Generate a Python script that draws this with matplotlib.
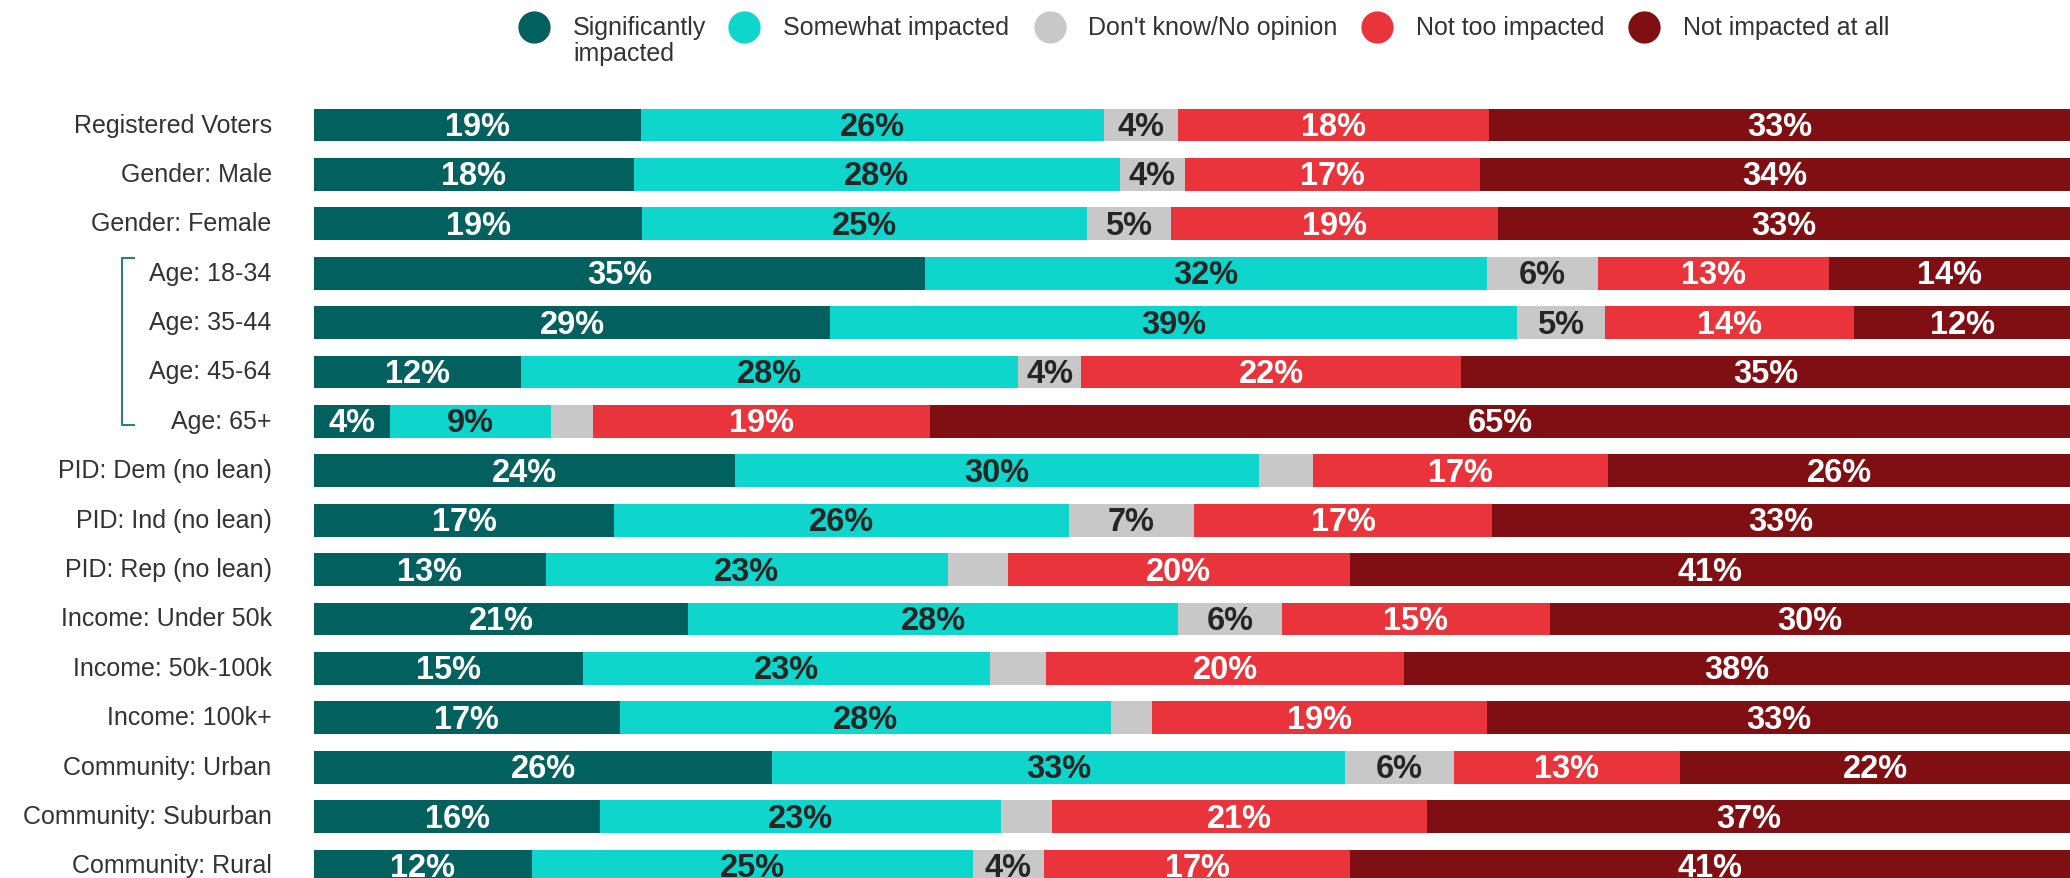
import matplotlib
matplotlib.use("Agg")
import matplotlib.pyplot as plt
import matplotlib.transforms as mtransforms

plt.rcParams['font.family'] = ['Liberation Sans', 'DejaVu Sans']

categories = ["Registered Voters", "Gender: Male", "Gender: Female",
              "Age: 18-34", "Age: 35-44", "Age: 45-64", "Age: 65+",
              "PID: Dem (no lean)", "PID: Ind (no lean)", "PID: Rep (no lean)",
              "Income: Under 50k", "Income: 50k-100k", "Income: 100k+",
              "Community: Urban", "Community: Suburban", "Community: Rural"]

series_names = ["Significantly\nimpacted", "Somewhat impacted", "Don't know/No opinion",
                "Not too impacted", "Not impacted at all"]

significantly = [18.6, 18.2, 18.7, 34.8, 29.4, 11.8, 4.3, 24.0, 17.1, 13.2, 21.3, 15.3, 17.4, 26.1, 16.3, 12.4]
somewhat = [26.4, 27.7, 25.3, 32.0, 39.1, 28.3, 9.2, 29.8, 25.9, 22.9, 27.9, 23.2, 28.0, 32.6, 22.8, 25.1]
dont_know = [4.2, 3.7, 4.8, 6.3, 5.0, 3.6, 2.4, 3.1, 7.1, 3.4, 5.9, 3.2, 2.3, 6.2, 2.9, 4.1]
not_too = [17.7, 16.8, 18.6, 13.2, 14.2, 21.6, 19.2, 16.8, 17.0, 19.5, 15.3, 20.4, 19.1, 12.9, 21.4, 17.4]
not_at_all = [33.1, 33.6, 32.6, 13.7, 12.3, 34.7, 64.9, 26.3, 32.9, 41.0, 29.6, 37.9, 33.2, 22.2, 36.6, 41.0]

colors = ["#02605e", "#0ed6cc", "#c8c8c8", "#e8343a", "#7f0f12"]
label_colors = ["white", "#262626", "#262626", "white", "white"]

W, H = 2070, 879
fig = plt.figure(figsize=(W / 100, H / 100), dpi=100)

# main axes: rows at y=0..15, pitch ~49.4 px, first row centre at 126 px
pitch = 49.4
top_px = 126 - pitch / 2
bot_px = 126 + pitch * 15.5
ax = fig.add_axes([314 / W, 1 - bot_px / H, 1 - 314 / W, (bot_px - top_px) / H])

all_series = [significantly, somewhat, dont_know, not_too, not_at_all]
ypos = list(range(len(categories)))
left = [0.0] * len(categories)
for vals, col, tcol in zip(all_series, colors, label_colors):
    ax.barh(ypos, vals, left=left, height=0.662, color=col, linewidth=0)
    for y, v, l in zip(ypos, vals, left):
        if v >= 3.5:
            ax.text(l + v / 2, y + 0.03, f"{round(v)}%", ha="center", va="center",
                    color=tcol, fontsize=23.5, fontweight="bold")
    left = [a + b for a, b in zip(left, vals)]

ax.set_xlim(0, 100)
ax.set_ylim(15.5, -0.5)
ax.set_yticks(ypos)
ax.set_yticklabels(categories, fontsize=18, color="#333333")
ax.tick_params(axis="y", length=0, pad=30.5)
shift = mtransforms.ScaledTranslation(0, 3 / 100, fig.dpi_scale_trans)
for lab in ax.get_yticklabels():
    lab.set_transform(lab.get_transform() + shift)
ax.set_xticks([])
for s in ax.spines.values():
    s.set_visible(False)

# bracket around age groups
trans = mtransforms.blended_transform_factory(fig.transFigure, ax.transData)
bx0, bx1 = 122 / W, 134 / W
ax.plot([bx1, bx0, bx0, bx1], [2.69, 2.69, 6.08, 6.08], transform=trans,
        color="#2e7f7c", lw=1.5, clip_on=False)

# legend drawn in pixel coordinates
lg = fig.add_axes([0, 0, 1, 1], zorder=-1)
lg.set_xlim(0, W)
lg.set_ylim(H, 0)
lg.axis("off")
circle_x = [534, 744, 1050, 1377, 1644]
text_x = [573, 783, 1088, 1416, 1683]
ly = 27.5
for cx, tx, name, col in zip(circle_x, text_x, series_names, colors):
    lg.scatter([cx], [ly], s=540, color=col, linewidths=0)
    lines = name.split("\n")
    for k, line in enumerate(lines):
        lg.text(tx, ly + k * 27, line, fontsize=18, color="#333333", va="center", ha="left")

fig.savefig("out.png", dpi=100)
